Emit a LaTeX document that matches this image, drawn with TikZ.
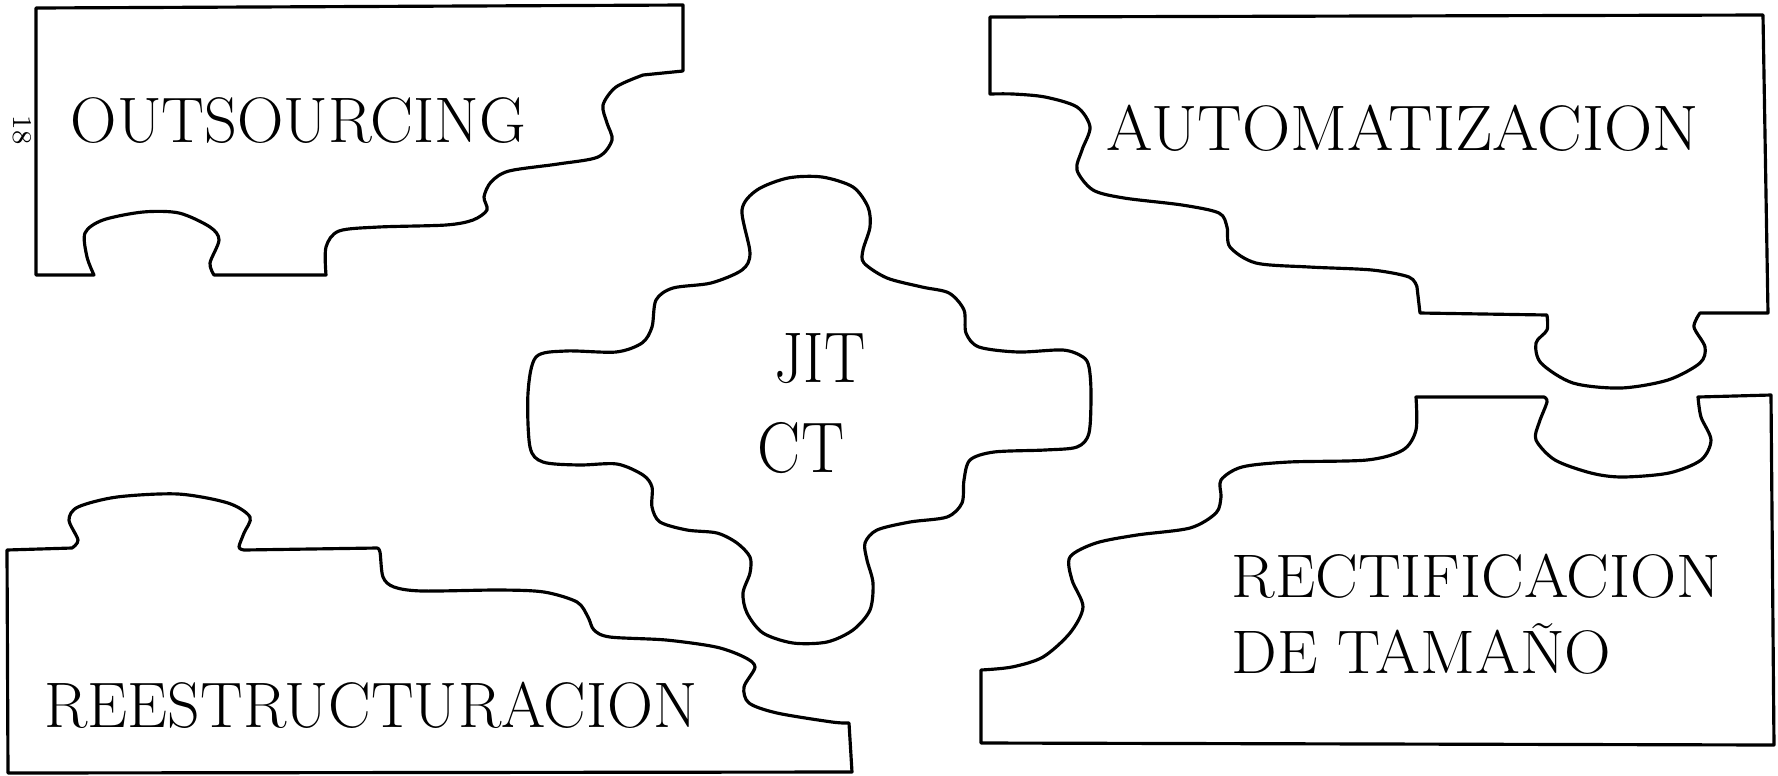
\documentclass[tikz,border=0pt]{standalone}
\usepackage{fontspec}
\begin{document}
\begin{tikzpicture}[x=0.1mm,y=-0.1mm]
\tikzstyle{every node}=[inner sep=0pt, font=\fontsize{18.3}{22}\selectfont]
\tikzstyle{piece}=[line width=0.9pt, line join=round]
\tikzstyle{word}=[anchor=base west]

% fix the page size
\useasboundingbox (0,0) rectangle (1778,775);

% outsourcing piece (top left)
\draw[piece] (36,8) -- (683,5) -- (683,71) -- (643,75)
  -- plot[smooth] coordinates {(643,75) (616,87) (603,105) (607,123) (612,140) (598,157) (558,164) (509,171) (491,182) (484,197) (487,210) (473,220) (446,225) (379,227) (339,231) (326,247) (326,275)}
  -- (214,275)
  -- plot[smooth] coordinates {(214,275) (210,263) (219,240) (210,227) (179,213) (143,212) (103,220) (85,233) (87,257) (94,275)}
  -- (36,275) -- cycle;

% automatizacion piece (top right)
\draw[piece] (990,17) -- (1763,15) -- (1768,313) -- (1700,313)
  -- plot[smooth] coordinates {(1700,313) (1694,327) (1705,347) (1700,363) (1668,380) (1621,388) (1573,383) (1541,363) (1536,343) (1547,330) (1547,315)}
  -- (1420,313) -- (1417,287)
  -- plot[smooth] coordinates {(1417,287) (1409,277) (1372,270) (1309,267) (1256,263) (1230,247) (1227,227) (1219,213) (1182,205) (1124,198) (1093,190) (1077,170) (1082,150) (1090,127) (1077,107) (1045,97) (1013,94) (990,94)}
  -- cycle;

% reestructuracion piece (bottom left)
\draw[piece] (7,550) -- (72,548)
  -- plot[smooth] coordinates {(72,548) (78,540) (69,520) (78,507) (117,497) (178,494) (228,503) (250,517) (244,533) (239,547) (244,550)}
  -- (377,548)
  -- plot[smooth] coordinates {(377,548) (380,552) (383,577) (394,587) (422,591) (499,590) (544,592) (577,602) (588,617) (594,630) (610,637) (666,640) (716,647) (744,657) (755,667) (744,687) (749,703) (777,713) (832,722) (849,723)}
  -- (852,772) -- (8,773) -- cycle;

% rectificacion piece (bottom right)
\draw[piece] (1416,397) -- (1544,397)
  -- plot[smooth] coordinates {(1544,397) (1547,402) (1539,423) (1536,440) (1555,460) (1591,473) (1622,477) (1669,473) (1701,460) (1711,440) (1701,417) (1698,397)}
  -- (1771,395) -- (1774,745) -- (981,743) -- (981,670)
  -- plot[smooth] coordinates {(981,670) (1012,667) (1043,657) (1070,633) (1083,607) (1072,580) (1070,557) (1096,543) (1137,535) (1190,528) (1216,513) (1221,497) (1221,480) (1242,467) (1289,462) (1367,460) (1403,450) (1416,430) (1416,397)}
  -- cycle;

% cross piece in the middle
\draw[piece] plot[smooth cycle] coordinates {(757,190) (788,178) (822,177) (853,187) (868,207) (870,227) (863,250) (864,263) (887,278) (922,287) (949,293) (964,310) (966,333) (979,347) (1018,352) (1063,350) (1083,357) (1089,367) (1091,393) (1089,433) (1077,447) (1045,450) (994,452) (970,460) (964,480) (962,503) (947,517) (910,522) (877,530) (865,543) (867,560) (873,583) (870,610) (853,630) (827,642) (793,643) (763,633) (747,613) (743,593) (750,573) (750,557) (737,543) (717,533) (687,530) (660,522) (652,507) (652,487) (643,475) (617,464) (579,465) (543,462) (530,447) (528,393) (536,357) (566,351) (616,352) (642,343) (652,327) (656,300) (673,288) (711,283) (742,270) (750,253) (742,210)};

% labels
\node[word] (outs) at (70,142) {OUTSOURCING};
\node[word, xscale=1.04] (auto) at (1106,150) {AUTOMATIZACION};
\node[word, xscale=0.99] (rees) at (44,727) {REESTRUCTURACION};
\node[word, xscale=1.04, font=\fontsize{17.5}{22}\selectfont] (rect) at (1231,597) {RECTIFICACION};
\node[word, xscale=1.05, font=\fontsize{17.5}{22}\selectfont] (tam) at (1231,673) {DE TAMAÑO};
\node[anchor=base, xscale=0.86, font=\fontsize{20.4}{25}\selectfont] (jit) at (820,382) {JIT};
\node[anchor=base, xscale=0.9, font=\fontsize{20.4}{25}\selectfont] (ct) at (801,472) {CT};

% page number
\node[rotate=-90, font=\fontsize{7.7}{9}\selectfont] (pagenum) at (22,130) {18};

\end{tikzpicture}
\end{document}
